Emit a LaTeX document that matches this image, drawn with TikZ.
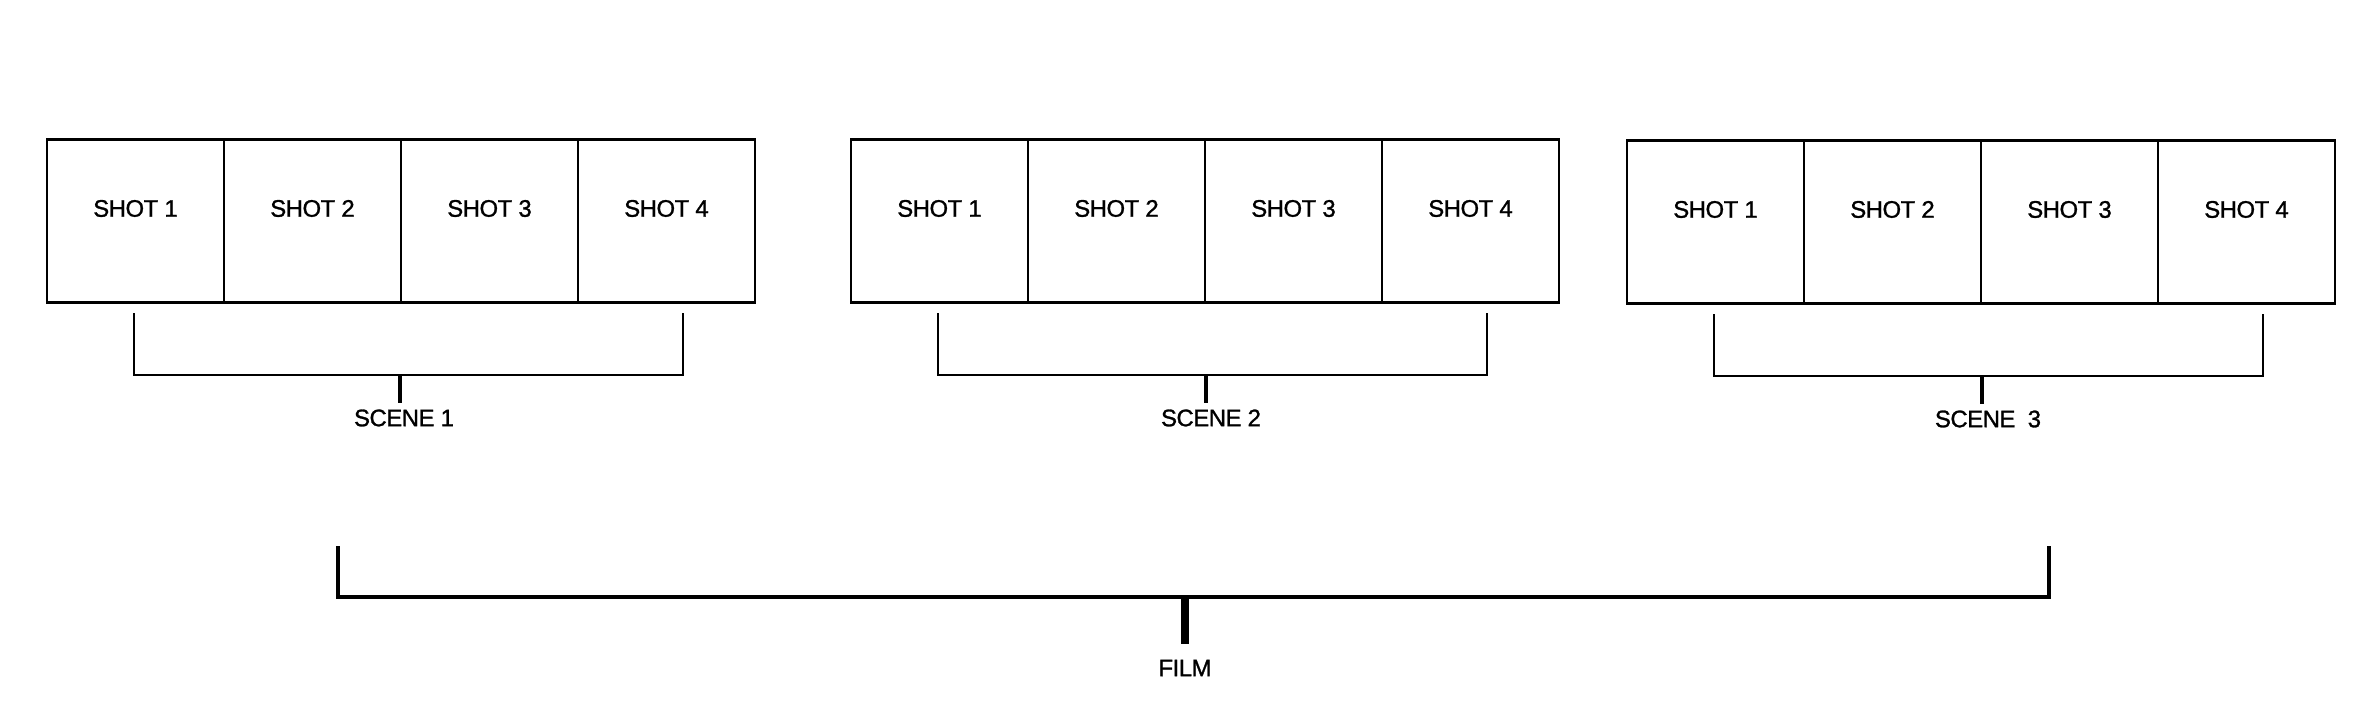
\documentclass[tikz,border=0pt]{standalone}
\usepackage{fontspec}
\setmainfont{Liberation Sans}
\newfontfamily\lblfont{Liberation Sans}[BoldFont=Liberation Sans,BoldFeatures={FakeBold=1.2},LetterSpace=-2]
\usetikzlibrary{positioning}

\begin{document}
\begin{tikzpicture}[x=0.01cm,y=-0.01cm]

\tikzset{cell/.style = {shape=rectangle,draw,line width=0.8pt,minimum width=1.77cm,minimum height=1.63cm,inner sep=0pt,outer sep=0pt}}
\tikzset{shot/.style = {font=\fontsize{6.8}{8}\lblfont\bfseries,inner sep=0pt,yshift=0.125cm}}
\tikzset{title/.style = {font=\fontsize{6.8}{8}\lblfont\bfseries,inner sep=0pt}}
\tikzset{bracket/.style = {draw,line width=0.8pt}}
\tikzset{stem/.style = {draw,line width=1.1pt}}

\useasboundingbox (0,0) rectangle (2362,709);

%cells
\node[cell, label={[shot]center:SHOT 1}] (a1) at (135.5,221) {};
\node[cell, label={[shot]center:SHOT 2}] (a2) at (312.5,221) {};
\node[cell, label={[shot]center:SHOT 3}] (a3) at (489.5,221) {};
\node[cell, label={[shot]center:SHOT 4}] (a4) at (666.5,221) {};

\node[cell, label={[shot]center:SHOT 1}] (b1) at (939.5,221) {};
\node[cell, label={[shot]center:SHOT 2}] (b2) at (1116.5,221) {};
\node[cell, label={[shot]center:SHOT 3}] (b3) at (1293.5,221) {};
\node[cell, label={[shot]center:SHOT 4}] (b4) at (1470.5,221) {};

\node[cell, label={[shot]center:SHOT 1}] (c1) at (1715.5,222) {};
\node[cell, label={[shot]center:SHOT 2}] (c2) at (1892.5,222) {};
\node[cell, label={[shot]center:SHOT 3}] (c3) at (2069.5,222) {};
\node[cell, label={[shot]center:SHOT 4}] (c4) at (2246.5,222) {};

%scene brackets
\coordinate (s1l) at (134,313);
\coordinate (s1r) at (683,313);
\coordinate (s1m) at (400,375);
\coordinate (s1s) at (400,403);
\node[title] (scene1) at (404,418) {SCENE 1};

\coordinate (s2l) at (938,313);
\coordinate (s2r) at (1487,313);
\coordinate (s2m) at (1206,375);
\coordinate (s2s) at (1206,403);
\node[title] (scene2) at (1211,418) {SCENE 2};

\coordinate (s3l) at (1714,314);
\coordinate (s3r) at (2263,314);
\coordinate (s3m) at (1982,376);
\coordinate (s3s) at (1982,404);
\node[title] (scene3) at (1988,419) {SCENE\ \ 3};

\draw[bracket] (s1l) |- (s1m) -| (s1r);
\draw[stem] (s1m) to (s1s);
\draw[bracket] (s2l) |- (s2m) -| (s2r);
\draw[stem] (s2m) to (s2s);
\draw[bracket] (s3l) |- (s3m) -| (s3r);
\draw[stem] (s3m) to (s3s);

%film bracket
\coordinate (fl) at (338,546);
\coordinate (fr) at (2049,546);
\coordinate (fm) at (1185,597);
\coordinate (fs) at (1185,644);
\node[title] (film) at (1185,668) {FILM};

\draw[line width=0.9pt] (fl) |- (fm) -| (fr);
\draw[line width=2pt] (fm) to (fs);

\end{tikzpicture}
\end{document}
